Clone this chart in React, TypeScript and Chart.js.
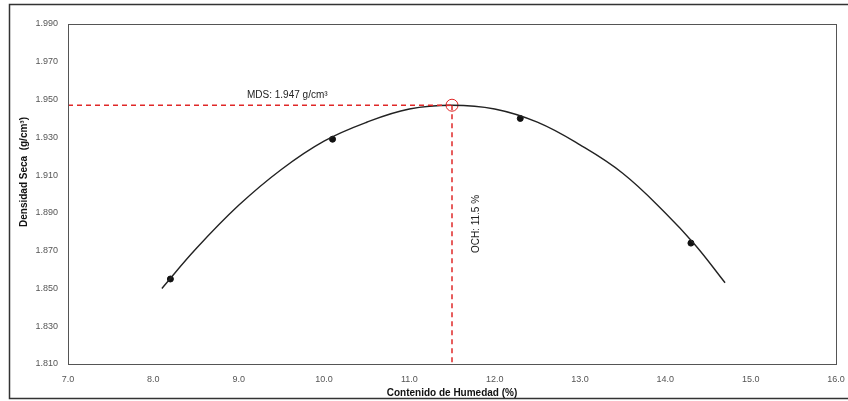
import React, { useEffect, useRef } from "react";
import { Chart, registerables } from "chart.js";

Chart.register(...registerables);

// Fitted compaction curve
const curveX = [8.1, 8.5, 9.0, 9.5, 10.0, 10.5, 11.0, 11.5, 12.0, 12.5, 13.0, 13.5, 14.0, 14.35, 14.7];
const curveY = [1.850, 1.871, 1.894, 1.913, 1.928, 1.938, 1.945, 1.947, 1.945, 1.938, 1.926, 1.911, 1.890, 1.873, 1.853];

// Test points
const testX = [8.2, 10.1, 12.3, 14.3];
const testY = [1.855, 1.929, 1.940, 1.874];

// Optimum
const ochX = 11.5;
const mdsY = 1.947;

// Axes
const xMin = 7.0;
const xMax = 16.0;
const yMin = 1.81;
const yMax = 1.99;

const mdsLabel = "MDS: 1.947 g/cm³";
const ochLabel = "OCH: 11.5 %";
const yTitle = "Densidad Seca  (g/cm³)";
const xTitle = "Contenido de Humedad (%)";

const FONT = "'Liberation Sans', Arial, sans-serif";
const RED = "#e02828";

const decorPlugin = {
  id: "decor",
  beforeDraw(chart: any) {
    const { ctx, width, height } = chart;
    ctx.save();
    ctx.fillStyle = "#ffffff";
    ctx.fillRect(0, 0, width, height);
    ctx.strokeStyle = "#333";
    ctx.lineWidth = 1.5;
    ctx.beginPath();
    ctx.moveTo(width, 4.5);
    ctx.lineTo(9.5, 4.5);
    ctx.lineTo(9.5, 398.5);
    ctx.lineTo(width, 398.5);
    ctx.stroke();
    ctx.restore();
  },
  afterDraw(chart: any) {
    const { ctx, chartArea, scales } = chart;
    ctx.save();
    ctx.strokeStyle = "#555";
    ctx.lineWidth = 1;
    ctx.strokeRect(chartArea.left + 0.5, chartArea.top + 0.5, chartArea.right - chartArea.left, chartArea.bottom - chartArea.top);

    ctx.fillStyle = "#222";
    ctx.font = `10px ${FONT}`;
    ctx.textBaseline = "middle";
    ctx.textAlign = "left";
    ctx.fillText(mdsLabel, 247, scales.y.getPixelForValue(mdsY) - 10);

    ctx.save();
    ctx.translate(scales.x.getPixelForValue(ochX) + 24, 224);
    ctx.rotate(-Math.PI / 2);
    ctx.textAlign = "center";
    ctx.fillText(ochLabel, 0, 0);
    ctx.restore();

    ctx.save();
    ctx.font = `bold 10px ${FONT}`;
    ctx.fillStyle = "#111";
    ctx.translate(24, 172);
    ctx.rotate(-Math.PI / 2);
    ctx.textAlign = "center";
    ctx.fillText(yTitle, 0, 0);
    ctx.restore();

    ctx.restore();
  },
};

export default function App() {
  const ref = useRef<HTMLCanvasElement | null>(null);

  useEffect(() => {
    if (!ref.current) return;
    const chart = new Chart(ref.current, {
      type: "scatter",
      data: {
        datasets: [
          {
            label: "MDS",
            data: [
              { x: xMin, y: mdsY },
              { x: ochX, y: mdsY },
            ],
            showLine: true,
            borderColor: RED,
            borderWidth: 1.5,
            borderDash: [5, 4],
            pointRadius: 0,
          },
          {
            label: "OCH",
            data: [
              { x: ochX, y: mdsY },
              { x: ochX, y: yMin },
            ],
            showLine: true,
            borderColor: RED,
            borderWidth: 1.5,
            borderDash: [5, 4],
            pointRadius: 0,
          },
          {
            label: "Curva",
            data: curveX.map((x, i) => ({ x, y: curveY[i] })),
            showLine: true,
            borderColor: "#222",
            borderWidth: 1.4,
            tension: 0.4,
            pointRadius: 0,
          },
          {
            label: "Ensayos",
            data: testX.map((x, i) => ({ x, y: testY[i] })),
            showLine: false,
            pointRadius: 3,
            pointBackgroundColor: "#111",
            pointBorderColor: "#111",
          },
          {
            label: "Optimo",
            data: [{ x: ochX, y: mdsY }],
            showLine: false,
            pointRadius: 6,
            pointBackgroundColor: "rgba(0,0,0,0)",
            pointBorderColor: RED,
            pointBorderWidth: 1,
          },
        ],
      },
      options: {
        responsive: false,
        animation: false,
        layout: { padding: { left: 10, top: 24, right: 12, bottom: 0 } },
        plugins: {
          legend: { display: false },
          tooltip: { enabled: false },
        },
        scales: {
          x: {
            type: "linear",
            min: xMin,
            max: xMax,
            grid: { display: false, drawTicks: false },
            border: { display: false },
            ticks: {
              stepSize: 1,
              padding: 10,
              color: "#555",
              font: { family: FONT, size: 9 },
              callback: (v: any) => Number(v).toFixed(1),
            },
            title: {
              display: true,
              text: xTitle,
              color: "#111",
              font: { family: FONT, size: 10, weight: "bold" },
              padding: { top: 2, bottom: 2 },
            },
            afterFit: (s: any) => {
              s.height = 37;
              s.paddingLeft = 0;
              s.paddingRight = 0;
            },
          },
          y: {
            type: "linear",
            min: yMin,
            max: yMax,
            grid: { display: false, drawTicks: false },
            border: { display: false },
            ticks: {
              stepSize: 0.02,
              padding: 10,
              color: "#555",
              font: { family: FONT, size: 9 },
              callback: (v: any) => Number(v).toFixed(3),
            },
            afterFit: (s: any) => {
              s.width = 58;
            },
          },
        },
      },
      plugins: [decorPlugin],
    } as any);
    return () => chart.destroy();
  }, []);

  return (
    <div style={{ position: "absolute", left: 0, top: 0, width: 848, height: 401, background: "#fff" }}>
      <canvas ref={ref} width={848} height={401} style={{ display: "block" }} />
    </div>
  );
}
